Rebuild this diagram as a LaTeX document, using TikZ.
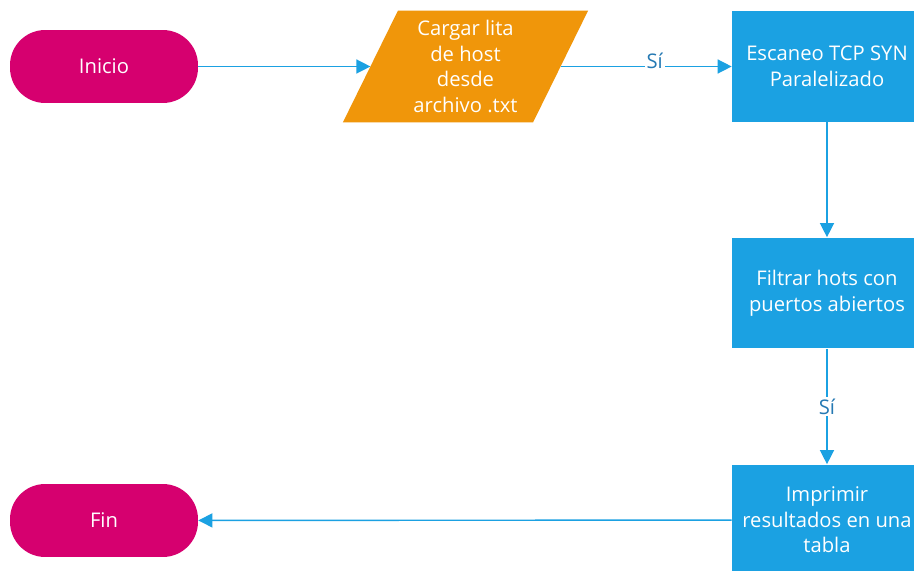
\documentclass[tikz,border=0pt]{standalone}
\usepackage{fontspec}
\setmainfont{Open Sans}
\usetikzlibrary{arrows.meta, calc, backgrounds}
\definecolor{finmagenta}{HTML}{D6006F}
\definecolor{cargaorange}{HTML}{F0960A}
\definecolor{procblue}{HTML}{1BA1E2}
\definecolor{labelblue}{HTML}{2579B3}
\tikzset{
    terminal/.style={rectangle, rounded corners=20pt, fill=finmagenta, text=white,
        minimum width=3.76cm, minimum height=1.46cm, font=\fontsize{11.5}{14}\selectfont},
    datanode/.style={rectangle, minimum width=3.79cm, minimum height=2.22cm,
        text=white, align=center, font=\fontsize{11.5}{14.6}\selectfont},
    process/.style={rectangle, fill=procblue, text=white, align=center,
        minimum width=3.8cm, minimum height=2.22cm, font=\fontsize{11.5}{14.6}\selectfont},
    flow/.style={-{Triangle[length=8pt, width=8pt]}, draw=procblue, line width=0.8pt},
    flowlabel/.style={fill=white, text=labelblue, inner sep=1pt, font=\fontsize{11.5}{13}\selectfont}
}

\begin{document}
\begin{tikzpicture}[x=0.02cm, y=-0.02cm]
    \clip (0,0) rectangle (914,571);
    % nodos
    \node[terminal] (inicio) at (104,66.5) {Inicio};
    \node[datanode] (carga) at (465.5,66.5) {Cargar lita\\de host\\desde\\archivo .txt};
    \begin{scope}[on background layer]
        \fill[white] (0,0) rectangle (914,571);
        \fill[cargaorange] ($(carga.north west)+(27.5,0)$) -- ($(carga.north east)+(27.5,0)$)
            -- ($(carga.south east)+(-27.5,0)$) -- ($(carga.south west)+(-27.5,0)$) -- cycle;
    \end{scope}
    \node[process] (escaneo) at (827,66.5) {Escaneo TCP SYN\\Paralelizado};
    \node[process] (filtrar) at (827,293) {Filtrar hots con\\puertos abiertos};
    \node[process] (imprimir) at (827,520) {Imprimir\\resultados en una\\tabla};
    \node[terminal] (fin) at (104,520.5) {Fin};
    % conectores
    \draw[flow] (inicio) -- (carga.west);
    \draw[flow] (carga.east) -- node[flowlabel, pos=0.55, yshift=3pt] {Sí} (escaneo);
    \draw[flow] (escaneo) -- (filtrar);
    \draw[flow] (filtrar) -- node[flowlabel] {Sí} (imprimir);
    \draw[flow] (imprimir) -- (fin);
\end{tikzpicture}
\end{document}
